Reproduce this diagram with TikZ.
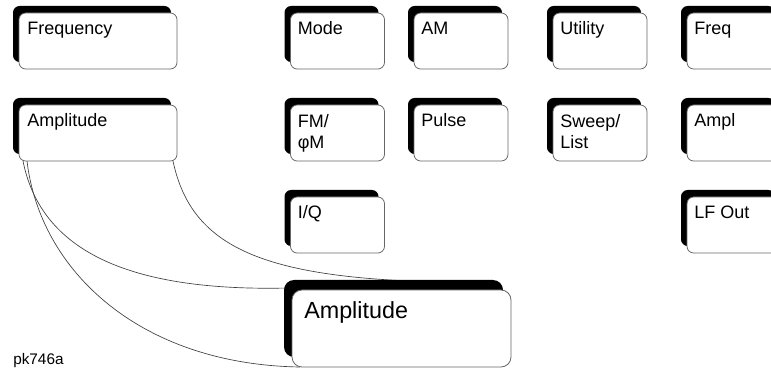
\documentclass[tikz,border=0pt]{standalone}
\usepackage{fontspec}
\setmainfont{Liberation Sans}
\usetikzlibrary{shadows,backgrounds}

\tikzset{
  softkey/.style={rectangle, rounded corners=5pt, draw=black!60, line width=0.6pt, fill=white,
    inner sep=0pt, outer sep=0pt, minimum width=70.5pt, minimum height=42pt,
    general shadow={fill=black, shadow xshift=-4.5pt, shadow yshift=5.25pt}},
  widekey/.style={softkey, minimum width=118.5pt},
  bigkey/.style={rectangle, rounded corners=7.5pt, draw=black!60, line width=0.6pt, fill=white,
    inner sep=0pt, outer sep=0pt, minimum width=164.25pt, minimum height=57.75pt,
    general shadow={fill=black, shadow xshift=-6pt, shadow yshift=7.5pt}},
  keytext/.style={anchor=base west, inner sep=0pt, font=\fontsize{13.5}{15.75}\selectfont},
  twoline/.style={keytext, anchor=north west, align=left},
  bigtext/.style={anchor=base west, inner sep=0pt, font=\fontsize{17.5}{21}\selectfont},
  link/.style={draw=black!75, line width=0.5pt},
}

\begin{document}
\begin{tikzpicture}[x=0.75pt,y=0.75pt,yscale=-1,xscale=1]
\useasboundingbox (0,0) rectangle (771,370);
\clip (0,0) rectangle (771,370);

%Keys: left column
\node (freq) [widekey] at (98,41) {};
\node (amp) [widekey] at (98,133) {};

%Keys: row 1
\node (mode) [softkey] at (337.5,41) {};
\node (am) [softkey] at (461,41) {};
\node (util) [softkey] at (600,41) {};
\node (frq) [softkey] at (734,41) {};

%Keys: row 2
\node (fm) [softkey] at (337.5,133) {};
\node (pulse) [softkey] at (461,133) {};
\node (sweep) [softkey] at (600,133) {};
\node (ampl) [softkey] at (734,133) {};

%Keys: row 3
\node (iq) [softkey] at (337.5,225) {};
\node (lfout) [softkey] at (734,225) {};

%Enlarged key
\node (big) [bigkey] at (401.5,328.5) {};

% Text Node
\node (freqtxt) [keytext] at ([shift={(8,22)}]freq.north west) {Frequency};
% Text Node
\node (amptxt) [keytext] at ([shift={(8,22)}]amp.north west) {Amplitude};
% Text Node
\node (modetxt) [keytext] at ([shift={(7,22)}]mode.north west) {Mode};
% Text Node
\node (amtxt) [keytext] at ([shift={(7,22)}]am.north west) {AM};
% Text Node
\node (utiltxt) [keytext] at ([shift={(7,22)}]util.north west) {Utility};
% Text Node
\node (frqtxt) [keytext] at ([shift={(7,22)}]frq.north west) {Freq};
% Text Node
\node (fmtxt) [twoline] at ([shift={(7,9)}]fm.north west) {FM/\\φM};
% Text Node
\node (pulsetxt) [keytext] at ([shift={(7,22)}]pulse.north west) {Pulse};
% Text Node
\node (sweeptxt) [twoline] at ([shift={(7,9)}]sweep.north west) {Sweep/\\List};
% Text Node
\node (ampltxt) [keytext] at ([shift={(7,22)}]ampl.north west) {Ampl};
% Text Node
\node (iqtxt) [keytext] at ([shift={(7,22)}]iq.north west) {I/Q};
% Text Node
\node (lfouttxt) [keytext] at ([shift={(7,22)}]lfout.north west) {LF Out};
% Text Node
\node (bigtxt) [bigtext] at ([shift={(12,29)}]big.north west) {Amplitude};
% Text Node
\node (figid) [anchor=base west, inner sep=0pt, font=\fontsize{11.5}{14}\selectfont] at (13,364) {pk746a};

%Curve Lines
\begin{scope}[on background layer]
\draw [link] ([shift={(-4,0)}]amp.south east) .. controls +(18,85) and +(-180,-4) .. ([shift={(38.5,-8)}]big.north);
\draw [link] ([shift={(4,0)}]amp.south west) .. controls +(17,85) and +(-168,4) .. ([shift={(-4,-2)}]big.north west);
\draw [link] ([shift={(8,0)}]amp.south west) .. controls +(13,110) and +(-160,-2.5) .. ([shift={(8,0)}]big.south west);
\end{scope}

\end{tikzpicture}
\end{document}
